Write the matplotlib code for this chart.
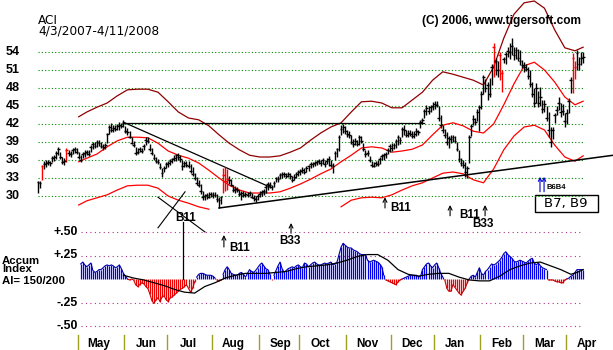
import numpy as np
import pandas as pd
import matplotlib
matplotlib.use('Agg')
import matplotlib.pyplot as plt
from matplotlib.patches import Rectangle
from matplotlib.transforms import blended_transform_factory

W, H = 613, 350
X0, DX = 38, 2.034          # pixel of first bar, pixels per trading day

dates = pd.bdate_range('2007-04-03', '2008-04-11')
days = np.arange(len(dates))

# daily bars, one line per month (Apr 2007 .. Apr 2008)
lows = [
    30.5, 31.3, 32.7, 34.5, 34.8, 35.2, 35.0, 35.6, 35.8, 36.2, 36.8, 36.2, 35.3, 35.2, 35.7, 36.6, 36.5, 37.0, 37.2, 37.0,
    36.2, 35.7, 36.3, 36.5, 36.8, 36.6, 37.4, 37.8, 38.0, 38.2, 38.4, 38.0, 37.7, 37.8, 38.8, 40.3, 40.6, 40.7, 40.8, 41.0, 41.0, 41.3, 41.5,
    40.5, 40.2, 39.6, 38.6, 38.2, 36.8, 37.0, 37.3, 37.2, 37.6, 38.5, 38.8, 37.5, 36.8, 36.0, 35.5, 35.3, 34.5, 33.2, 34.0, 34.7,
    34.8, 35.2, 35.5, 35.8, 35.8, 36.0, 35.7, 34.3, 34.8, 34.8, 34.6, 33.8, 33.4, 32.6, 31.8, 31.5, 30.3, 29.4, 29.3, 29.5, 29.6, 29.8,
    29.7, 29.8, 29.0, 28.0, 28.6, 30.5, 30.8, 31.0, 32.0, 31.6, 30.6, 30.5, 30.7, 30.0, 29.4, 29.8, 29.9, 29.8, 30.0, 29.6, 29.2, 29.0, 29.3,
    29.8, 30.0, 30.2, 30.5, 31.0, 31.3, 31.0, 31.5, 32.3, 32.4, 32.8, 33.0, 33.2, 33.0, 33.2, 32.8, 32.3, 32.6, 33.0, 33.3,
    33.5, 33.8, 33.6, 34.0, 34.2, 34.7, 34.8, 35.0, 35.2, 35.3, 35.0, 35.4, 34.8, 35.3, 35.0, 34.8, 33.8, 36.0, 36.5, 37.5, 40.2, 40.5, 40.3,
    39.8, 39.7, 38.6, 38.2, 38.5, 38.3, 38.5, 38.8, 37.5, 36.5, 36.6, 35.6, 34.8, 34.8, 35.0, 35.0, 35.4, 36.0, 36.0, 36.4, 37.0, 37.3,
    37.5, 37.8, 38.0, 38.5, 38.6, 39.8, 40.2, 39.8, 39.8, 40.0, 39.7, 39.7, 40.0, 40.2, 41.3, 42.0, 43.0, 43.5, 43.6, 44.0, 44.3, 44.5,
    44.8, 42.5, 41.3, 40.5, 39.7, 38.5, 38.0, 38.8, 39.0, 38.8, 37.5, 35.7, 35.0, 34.7, 33.2, 33.0, 35.5, 40.0, 41.8, 41.8, 42.5, 40.8,
    44.5, 47.0, 47.3, 46.0, 46.5, 48.5, 49.8, 50.2, 49.8, 49.3, 47.3, 52.2, 52.0, 53.2, 52.8, 53.5, 52.7, 52.8, 52.5, 51.8, 51.3,
    50.7, 50.8, 49.5, 48.2, 46.5, 44.8, 45.5, 44.8, 45.0, 43.8, 44.0, 42.5, 39.8, 38.2, 39.5, 42.2, 43.5, 44.3, 43.2, 43.5, 41.5,
    42.0, 43.8, 47.2, 47.2, 49.5, 51.0, 51.0, 51.8, 52.2,
]
highs = [
    32.5, 32.5, 35.2, 35.8, 36.0, 36.0, 35.9, 36.6, 36.8, 37.5, 38.2, 37.4, 36.5, 36.3, 38.0, 37.6, 37.5, 38.0, 38.2, 38.0,
    37.4, 36.8, 37.3, 37.6, 37.7, 37.6, 38.5, 39.0, 39.0, 39.3, 39.3, 39.0, 38.6, 38.8, 40.5, 41.8, 42.2, 41.8, 41.8, 42.0, 42.3, 42.2, 42.6,
    41.6, 41.3, 40.8, 39.8, 39.2, 38.2, 38.0, 38.2, 38.0, 38.6, 39.8, 39.8, 38.6, 38.0, 37.0, 36.5, 36.2, 35.5, 34.6, 35.0, 35.7,
    35.8, 36.2, 36.4, 36.8, 37.0, 37.2, 36.8, 36.0, 35.8, 35.9, 35.8, 35.3, 34.8, 33.8, 33.2, 32.6, 32.0, 30.8, 30.4, 30.5, 30.6, 30.7,
    30.7, 30.6, 30.3, 29.8, 30.0, 34.6, 34.8, 34.5, 33.4, 32.8, 31.8, 31.6, 31.5, 31.0, 30.8, 30.8, 30.7, 30.7, 30.8, 30.5, 30.2, 30.0, 30.3,
    30.8, 31.0, 31.2, 31.8, 32.3, 32.3, 31.8, 32.5, 33.2, 33.3, 33.8, 34.0, 34.0, 33.9, 34.0, 33.8, 33.3, 33.6, 34.0, 34.3,
    34.5, 34.8, 34.6, 35.0, 35.2, 35.6, 35.7, 35.8, 36.0, 36.2, 36.0, 36.3, 35.8, 36.3, 36.6, 36.0, 35.5, 37.5, 38.0, 40.2, 41.8, 42.0, 41.6,
    41.0, 40.8, 40.2, 39.5, 39.6, 39.4, 40.2, 40.0, 38.8, 37.7, 37.6, 36.6, 35.8, 35.6, 35.8, 36.0, 36.5, 37.0, 37.2, 37.3, 38.0, 38.6,
    38.8, 38.8, 39.5, 40.2, 39.8, 41.5, 41.8, 41.0, 41.0, 41.0, 40.8, 40.8, 41.3, 41.0, 42.6, 43.0, 44.5, 45.2, 45.0, 45.2, 45.6, 45.8,
    45.8, 45.0, 43.5, 41.8, 41.2, 40.7, 40.0, 40.2, 40.2, 40.0, 39.0, 37.7, 36.3, 36.0, 35.6, 35.0, 40.2, 42.0, 43.5, 43.0, 44.5, 45.2,
    47.5, 50.2, 49.5, 49.0, 49.7, 52.0, 55.5, 53.0, 52.5, 54.0, 51.0, 53.2, 54.0, 54.8, 55.5, 56.3, 54.8, 54.8, 54.5, 54.3, 52.7,
    52.3, 52.0, 51.5, 51.0, 49.0, 48.0, 48.8, 47.5, 48.2, 46.0, 46.0, 45.0, 44.0, 41.5, 41.5, 43.8, 45.0, 46.5, 45.5, 45.3, 43.8,
    44.5, 46.3, 49.8, 53.8, 52.5, 54.3, 53.2, 54.0, 54.0,
]
closes = [
    32.3, 32.2, 35.0, 35.3, 35.5, 35.7, 35.5, 36.3, 36.5, 37.2, 37.8, 36.5, 35.7, 35.8, 37.7, 37.2, 37.0, 37.6, 37.9, 37.3,
    36.5, 36.0, 37.0, 37.2, 37.4, 37.0, 38.2, 38.6, 38.4, 39.0, 38.8, 38.3, 38.2, 38.5, 40.3, 41.5, 41.0, 41.3, 41.2, 41.6, 41.8, 41.6, 42.2,
    40.8, 40.6, 39.8, 38.9, 38.5, 37.2, 37.4, 37.8, 37.5, 38.3, 39.4, 39.2, 37.8, 37.2, 36.3, 35.9, 35.6, 34.8, 33.9, 34.6, 35.3,
    35.5, 35.8, 36.1, 36.4, 36.8, 36.5, 36.2, 35.0, 35.5, 35.2, 35.0, 34.2, 33.7, 33.0, 32.2, 31.8, 30.8, 29.9, 30.0, 30.2, 29.9, 30.4,
    30.2, 30.1, 29.5, 29.3, 29.8, 33.5, 32.5, 32.8, 32.6, 31.9, 31.0, 31.2, 31.0, 30.3, 30.5, 30.2, 30.4, 30.2, 30.5, 29.9, 29.6, 29.5, 30.0,
    30.4, 30.7, 30.9, 31.5, 32.0, 31.8, 31.5, 32.2, 33.0, 32.8, 33.5, 33.6, 33.7, 33.4, 33.6, 33.3, 32.7, 33.2, 33.7, 34.0,
    34.2, 34.4, 34.0, 34.7, 35.0, 35.3, 35.4, 35.5, 35.6, 35.9, 35.5, 36.0, 35.3, 35.8, 36.2, 35.2, 35.0, 37.2, 37.8, 39.8, 41.2, 41.5, 40.8,
    40.4, 40.2, 39.0, 38.7, 39.2, 38.7, 39.8, 39.2, 37.8, 37.0, 37.2, 36.0, 35.2, 35.0, 35.5, 35.4, 36.1, 36.6, 36.8, 37.0, 37.7, 38.3,
    38.0, 38.5, 39.2, 39.8, 39.3, 41.2, 41.0, 40.2, 40.5, 40.3, 40.0, 40.4, 40.8, 40.6, 42.3, 42.6, 44.2, 44.6, 44.2, 44.8, 45.0, 45.3,
    45.2, 43.0, 41.8, 41.0, 40.2, 39.0, 39.6, 39.5, 39.8, 39.2, 37.8, 36.2, 35.5, 35.2, 34.0, 34.6, 39.8, 41.6, 42.8, 42.3, 44.0, 44.8,
    47.0, 49.8, 48.0, 48.5, 47.0, 51.5, 54.8, 52.5, 51.0, 53.5, 50.5, 52.8, 53.6, 54.2, 54.0, 55.0, 53.5, 54.3, 53.0, 52.5, 51.8,
    51.5, 51.2, 50.0, 48.6, 47.0, 45.5, 48.0, 45.5, 46.5, 44.5, 45.3, 43.0, 41.0, 39.0, 41.0, 43.5, 44.3, 45.5, 44.0, 44.2, 42.5,
    43.8, 45.8, 49.3, 53.0, 51.5, 53.8, 52.0, 53.0, 53.2,
]
red_days = [2, 14, 91, 92, 93, 224, 227, 228, 263, 264]

# bands, read every 5 trading days
band_days = [20, 24, 29, 34, 39, 44, 49, 54, 59, 64, 69, 74, 79, 84, 89, 94, 99, 104, 109, 114,
             119, 124, 129, 134, 139, 144, 149, 154, 159, 164, 169, 174, 179, 184, 189, 194, 199,
             204, 209, 214, 219, 224, 229, 234, 239, 244, 249, 254, 259, 264, 268]
upper_band = [43.2, 44.0, 44.8, 45.5, 46.7, 47.7, 47.8, 47.8, 47.3, 45.7, 44.0, 43.0, 42.7, 41.7, 40.2,
              38.8, 37.7, 36.8, 36.5, 36.5, 36.7, 37.3, 38.0, 39.3, 40.5, 41.5, 42.2, 44.0, 45.7, 45.8,
              45.5, 44.7, 44.7, 46.0, 47.3, 49.3, 50.7, 50.3, 49.8, 49.3, 48.5, 51.5, 56.3, 60.3, 62.2,
              62.5, 61.3, 57.7, 54.7, 54.2, 54.8]
mid_line = [35.7, 36.3, 37.0, 38.2, 39.2, 39.8, 39.8, 39.7, 38.8, 37.5, 36.8, 36.3, 35.5, 34.3, 33.0,
            31.8, 31.0, 30.5, 30.5, 30.5, 30.7, 31.3, 32.0, 32.8, 33.7, 34.5, 35.7, 36.8, 38.0, 38.2,
            38.0, 37.3, 37.5, 37.8, 38.5, 40.2, 41.8, 42.2, 41.7, 40.8, 40.5, 42.0, 45.2, 48.7, 51.7,
            52.3, 51.0, 49.0, 46.5, 45.2, 45.8]
lower_band = [28.5, 29.2, 29.7, 30.2, 31.0, 31.7, 31.8, 31.8, 31.3, 30.0, 29.3, 28.8, 28.2, 27.8, None,
              None, None, None, None, None, None, None, None, None, None, None, 28.2, 29.3, 29.7, 29.8,
              29.7, 30.2, 31.0, 31.7, 32.2, 33.0, 33.8, 34.0, 33.7, 32.7, 32.2, 34.5, 37.7, 40.0, 41.5,
              41.8, 41.0, 38.5, 36.5, 35.8, 36.7]

# accumulation index, daily from day 21
ai_first_day = 21
accum_index = [
    0.16, 0.18, 0.15, 0.13, 0.15, 0.17, 0.09, 0.07, 0.08, 0.10,
    0.10, 0.12, 0.14, 0.15, 0.14, 0.15, 0.14, 0.12, 0.13, 0.15,
    0.11, 0.06, 0.03, 0.00, -0.01, 0.00, -0.01, -0.06, -0.08, -0.06,
    -0.04, -0.05, -0.08, -0.10, -0.16, -0.23, -0.26, -0.22, -0.20, -0.24,
    -0.19, -0.18, -0.22, -0.24, -0.20, -0.19, -0.17, -0.15, -0.13, -0.11,
    -0.10, -0.08, -0.06, -0.10, -0.14, -0.10, -0.03, 0.02, 0.05, 0.06,
    0.06, 0.05, 0.04, 0.04, 0.04, 0.03, 0.01, -0.01, -0.02, -0.01,
    0.05, 0.10, 0.13, 0.10, 0.06, 0.05, 0.04, 0.04, 0.06, 0.07,
    0.05, 0.02, 0.06, 0.10, 0.08, 0.07, 0.09, 0.12, 0.15, 0.17,
    0.14, 0.11, 0.10, 0.05, -0.01, 0.04, 0.09, 0.14, 0.18, 0.11,
    0.07, 0.09, 0.11, 0.12, 0.13, 0.12, 0.14, 0.15, 0.13, 0.12,
    0.17, 0.16, 0.13, 0.15, 0.17, 0.18, 0.16, 0.15, 0.15, 0.16,
    0.17, 0.16, 0.17, 0.18, 0.15, 0.16, 0.18, 0.26, 0.34, 0.38,
    0.36, 0.34, 0.33, 0.33, 0.31, 0.30, 0.29, 0.27, 0.26, 0.26,
    0.26, 0.20, 0.18, 0.19, 0.20, 0.19, 0.18, 0.16, 0.13, 0.04,
    -0.01, -0.02, -0.03, -0.04, -0.05, -0.06, -0.03, -0.01, 0.00, 0.01,
    0.02, 0.03, 0.04, 0.04, 0.04, 0.04, 0.03, 0.02, 0.10, 0.13,
    0.16, 0.17, 0.14, 0.12, 0.15, 0.17, 0.12, 0.06, 0.02, -0.01,
    -0.10, -0.13, -0.13, -0.06, -0.09, -0.12, -0.15, -0.17, -0.13, -0.10,
    -0.04, 0.00, 0.03, 0.04, 0.02, 0.07, 0.12, 0.06, 0.04, 0.08,
    0.10, 0.13, 0.16, 0.15, 0.16, 0.18, 0.20, 0.23, 0.27, 0.29,
    0.26, 0.24, 0.22, 0.19, 0.18, 0.19, 0.20, 0.19, 0.18, 0.17,
    0.19, 0.21, 0.22, 0.17, 0.15, 0.17, 0.14, 0.12, 0.11, 0.10,
    -0.01, -0.01, -0.01, -0.02, -0.03, -0.03, -0.04, -0.04, -0.01, 0.00,
    0.01, 0.03, 0.04, 0.07, 0.10, 0.10, 0.10, 0.10,
]
ai_ma_days = list(range(42, 263, 5)) + [265, 268]
ai_ma = [0.04, 0.01, -0.01, -0.04, -0.07, -0.11, -0.14, -0.15, -0.08, -0.04,
         0.01, 0.04, 0.06, 0.06, 0.06, 0.07, 0.08, 0.11, 0.13, 0.14,
         0.15, 0.17, 0.20, 0.24, 0.26, 0.26, 0.20, 0.10, 0.05, 0.03,
         0.05, 0.06, 0.06, 0.02, -0.01, -0.02, -0.02, 0.03, 0.10, 0.14,
         0.17, 0.18, 0.14, 0.10, 0.05, 0.07, 0.10]

price_levels = [54, 51, 48, 45, 42, 39, 36, 33, 30]
ai_levels = [0.5, 0.25, -0.25, -0.5]
ai_level_labels = ['+.50', '+.25', '-.25', '-.50']

# trend lines as (days, prices)
resistance_line = ([42, 190], [42.15, 42.15])
down_line = ([42, 114], [42.3, 31.5])
support_line = ([89, 283], [28.0, 36.8])
cross_a = ([59, 82.1], [29.8, 24.0])
cross_b = ([59, 72.3], [24.7, 30.7])

# signals: label, arrow day, arrow top, arrow bottom, text day, text price
signals = [
    ('B11', 91.4, 23.5, 21.5, 99.3, 21.3),
    ('B33', 124.4, 25.5, 23.8, 123.9, 22.5),
    ('B11', 170.6, 29.8, 28.0, 178.5, 28.0),
    ('B11', 202.6, 28.5, 26.7, 212.4, 26.8),
    ('B33', 219.8, 28.5, 26.7, 218.8, 25.3),
]

month_names = ['May', 'Jun', 'Jul', 'Aug', 'Sep', 'Oct', 'Nov', 'Dec', 'Jan', 'Feb', 'Mar', 'Apr']

BOLD = dict(family='Liberation Sans', weight='bold', color='black')

fig = plt.figure(figsize=(W / 100, H / 100), dpi=100)
fig.patch.set_facecolor('white')

xlim = (-X0 / DX, (W - X0) / DX)
ax = fig.add_axes([0, 120 / H, 1, 230 / H])
ax.set_xlim(*xlim)
ax.set_ylim(54 - (230 - 52) / 6, 54 + 52 / 6)
ax.axis('off')

ax2 = fig.add_axes([0, 15 / H, 1, 110 / H])
ax2.set_xlim(*xlim)
ax2.set_ylim((279 - 335) / 94, (279 - 225) / 94)
ax2.axis('off')

# price grid + labels
ax.hlines(price_levels, 0, days[-1], colors='#008800', lw=0.8, linestyles=(0, (1, 2)))
for lvl in price_levels:
    ax.text(-8.8, lvl, str(lvl), ha='right', va='center', fontsize=9, **BOLD)

# bands
bd = np.array(band_days)
ax.plot(bd, np.array(upper_band, dtype=float), color='#900000', lw=0.9)
ax.plot(bd, np.array(mid_line, dtype=float), color='#ff0000', lw=0.9)
ax.plot(bd, np.array(lower_band, dtype=float), color='#ff0000', lw=0.9)

# trend lines
ax.plot(*resistance_line, color='black', lw=0.9)
ax.plot(*down_line, color='black', lw=0.9)
ax.plot(*support_line, color='black', lw=1.1, clip_on=False)
ax.plot(*cross_a, color='black', lw=0.8, clip_on=False)
ax.plot(*cross_b, color='black', lw=0.8, clip_on=False)

# bars
bar_colors = ['red' if d in red_days else 'black' for d in days]
ax.vlines(days, lows, highs, colors=bar_colors, lw=1.0)
ax.hlines(closes, days - 0.7, days + 0.7, colors=bar_colors, lw=1.0)

# signals
for label, ad, atop, abot, td, tp in signals:
    ax.annotate('', xy=(ad, atop), xytext=(ad, abot), annotation_clip=False,
                arrowprops=dict(arrowstyle='->', lw=0.8, color='black', shrinkA=0, shrinkB=0,
                                mutation_scale=7))
    ax.text(td, tp, label, ha='center', va='center', fontsize=8.4, **BOLD)
ax.text(72.8, 26.4, 'B11', ha='center', va='center', fontsize=8.4, **BOLD)

for d in (246.8, 248.8):
    ax.annotate('', xy=(d, 33.2), xytext=(d, 30.7), annotation_clip=False,
                arrowprops=dict(arrowstyle='->', lw=0.8, color='#0000cc', shrinkA=0, shrinkB=0,
                                mutation_scale=6))
ax.text(254.7, 31.4, 'B6B4', ha='center', va='center', fontsize=5.5, **BOLD)
ax.add_patch(Rectangle((244.3, 27.33), 31.0, 2.84, fc='white', ec='black', lw=1.0, clip_on=False))
ax.text(259.6, 28.75, 'B7, B9', ha='center', va='center', fontsize=9.5,
        family='DejaVu Sans', color='black')

# accumulation index panel
ai = np.array(accum_index)
ai_days = np.arange(ai_first_day, ai_first_day + len(ai))
ax2.hlines(ai_levels, ai_first_day, days[-1], colors='#aa3388', lw=0.8, linestyles=(0, (1, 3)))
for lvl, lab in zip(ai_levels, ai_level_labels):
    ax2.text(19.7, lvl, lab, ha='right', va='center', fontsize=8.8, **BOLD)
ai_colors = np.where(ai >= 0, '#0000ee', '#ee0000')
ax2.vlines(ai_days, 0, ai, colors=ai_colors, lw=0.9)
ax2.plot(ai_days, np.where(ai >= 0, ai, np.nan), color='#0000aa', lw=0.8)
ax2.plot(ai_days, np.where(ai <= 0, ai, np.nan), color='#cc0000', lw=0.8)
ax2.plot(ai_ma_days, ai_ma, color='black', lw=0.9)
ax2.plot([71.4, 71.4], [0.0, 0.61], color='black', lw=0.9, clip_on=False)

# month separators and labels
month_start = [i for i in range(1, len(dates)) if dates[i].month != dates[i - 1].month]
trans = blended_transform_factory(ax2.transData, fig.transFigure)
for s, name in zip(month_start, month_names):
    ax2.plot([s - 0.5, s - 0.5], [0, 15 / H], transform=trans, color='#a0a020', lw=1.0, clip_on=False)
    ax2.text(s + 10, 1 - 347 / H, name, transform=trans, ha='center', va='baseline',
             fontsize=8.5, **BOLD)

# titles
fig.text(X0 / W, 1 - 35 / H, 'ACI\n4/3/2007-4/11/2008', fontsize=8.7, family='DejaVu Sans',
         color='black', linespacing=0.85)
fig.text(422 / W, 1 - 24 / H, '(C) 2006, www.tigersoft.com', fontsize=8.6, **BOLD)
fig.text(2 / W, 1 - 272.5 / H, 'Accum\nIndex', fontsize=8.2, linespacing=0.82, **BOLD)
fig.text(2 / W, 1 - 283.5 / H, 'AI= 150/200', fontsize=8.2, **BOLD)

fig.savefig('out.png', dpi=100, facecolor='white')
